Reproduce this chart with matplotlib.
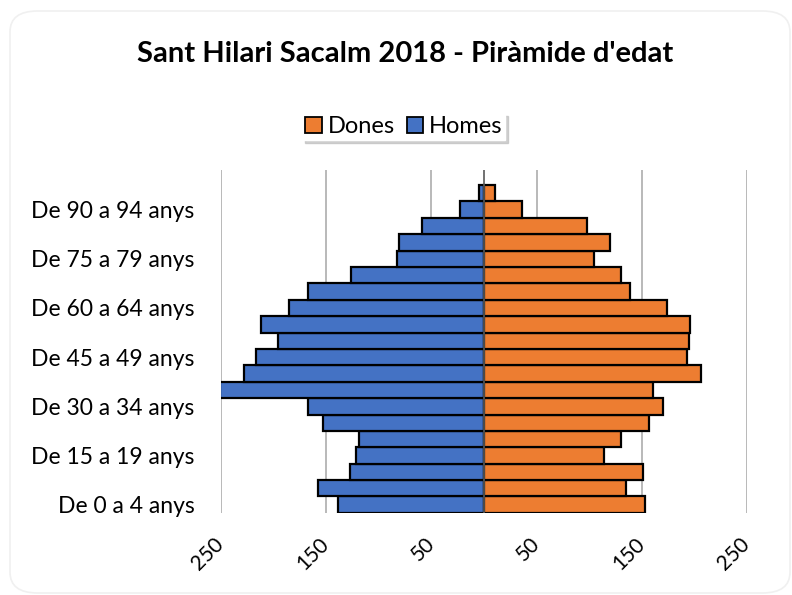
import matplotlib
matplotlib.use("Agg")
import matplotlib.pyplot as plt
from matplotlib.patches import FancyBboxPatch, Patch

plt.rcParams['font.family'] = ['Lato', 'DejaVu Sans']

age_groups = ["De %d a %d anys" % (a, a + 4) for a in range(0, 100, 5)]
homes = [139, 158, 127, 122, 119, 153, 167, 251, 228, 217,
         196, 212, 185, 167, 126, 83, 81, 59, 23, 5]
dones = [153, 135, 151, 114, 130, 157, 170, 161, 206, 193,
         195, 196, 174, 139, 130, 105, 120, 98, 36, 11]
xtick_vals = [-250, -150, -50, 50, 150, 250]

blue = "#4472C4"
orange = "#ED7D31"

fig = plt.figure(figsize=(7.92, 5.95), dpi=100)
# faint rounded frame of the chart area
fig.patches.append(FancyBboxPatch((10 / 792, 2 / 595), 780 / 792, 582 / 595,
                                  boxstyle="round,pad=0,rounding_size=0.035",
                                  transform=fig.transFigure, facecolor="white",
                                  edgecolor="#F0F0F0", linewidth=1.2, zorder=-10))

ax = fig.add_axes([0.279, 0.138, 0.664, 0.576])
ax.set_facecolor("none")
y = list(range(len(age_groups)))
ax.barh(y, [-h for h in homes], height=1.0, color=blue, edgecolor="black",
        linewidth=1.6, zorder=3)
ax.barh(y, dones, height=1.0, color=orange, edgecolor="black",
        linewidth=1.6, zorder=3)
ax.axvline(0, color="#595959", linewidth=1.2, zorder=4)

ax.set_xlim(-250, 250)
ax.set_ylim(-0.5, 20.4)
ax.set_xticks(xtick_vals)
ax.set_xticklabels([str(abs(v)) for v in xtick_vals], rotation=45,
                   ha="right", va="center", rotation_mode="anchor", fontsize=15)
ax.set_yticks(y[::3])
ax.set_yticklabels(age_groups[::3], fontsize=16.5)
ax.tick_params(axis="y", length=0, pad=19)
ax.tick_params(axis="x", length=0, pad=20)
ax.grid(axis="x", color="#B3B3B3", linewidth=1.3, zorder=0)
for s in ax.spines.values():
    s.set_visible(False)

fig.text(0.511, 0.91, "Sant Hilari Sacalm 2018 - Piràmide d'edat",
         ha="center", va="center", fontsize=21, fontweight="bold")

handles = [Patch(facecolor=orange, edgecolor="black", linewidth=1.3, label="Dones"),
           Patch(facecolor=blue, edgecolor="black", linewidth=1.3, label="Homes")]
leg = fig.legend(handles=handles, loc="center", bbox_to_anchor=(0.51, 0.787),
                 ncol=2, fontsize=17, frameon=True, fancybox=False,
                 shadow={"color": "#BDBDBD", "alpha": 0.7},
                 handlelength=0.7, handleheight=0.7, handletextpad=0.25,
                 columnspacing=0.5, borderpad=0.12, borderaxespad=0)
leg.get_frame().set_edgecolor("white")

fig.savefig("out.png", dpi=100)
